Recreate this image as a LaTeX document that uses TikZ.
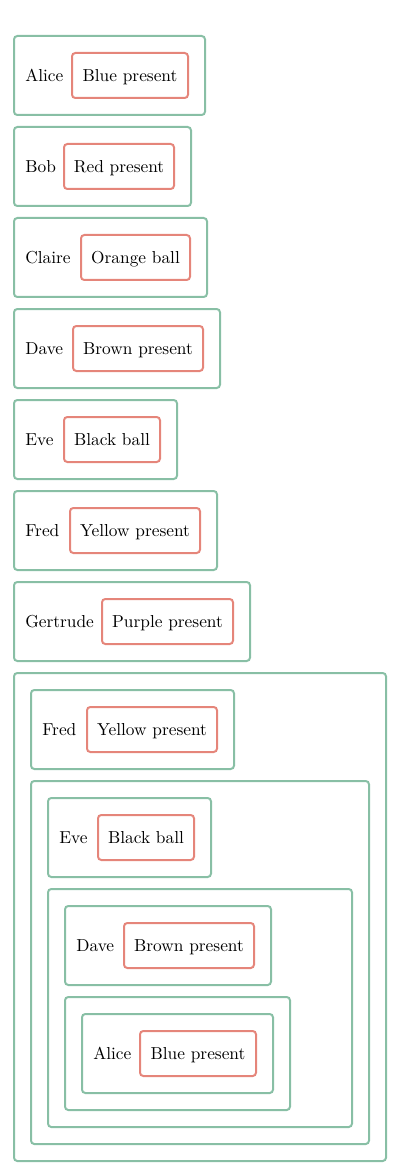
\documentclass[tikz,border=0pt]{standalone}
\usetikzlibrary{positioning}
\definecolor{gcol}{HTML}{88BFA5}
\definecolor{rcol}{HTML}{E5857A}
\tikzset{
  gbox/.style={draw=gcol, line width=1.2pt, rounded corners=2pt, inner sep=0pt, outer sep=0pt},
  rbox/.style={draw=rcol, line width=1.2pt, rounded corners=2pt, inner xsep=0pt, inner ysep=0pt,
     minimum height=27pt, align=center, text height={1.5ex+1.8pt}, text depth=.25ex, outer sep=0pt,
     font=\fontsize{10.4}{12}\selectfont},
  lbl/.style={inner sep=0pt, text height=1.5ex, text depth=.25ex, anchor=west,
     font=\fontsize{10.4}{12}\selectfont}
}
\newcommand\person[7]{%
  \node[gbox, anchor=north west, minimum width={(#4-#2)*0.6pt}, minimum height=47.4pt] (#1) at (#2,#3) {};
  \node[lbl] (#1l) at (#2+11,#3+41) {#6};
  \node[rbox, anchor=west, minimum width={(#4-17-#5)*0.6pt}] (#1g) at (#5,#3+39.5) {#7};
}
\newcommand\container[5]{%
  \node[gbox, anchor=north west, minimum width={(#4-#2)*0.6pt}, minimum height={(#5-#3)*0.6pt}] (#1) at (#2,#3) {};
}
\begin{document}
\begin{tikzpicture}[x=0.6pt,y=-0.6pt]
\useasboundingbox (0,0) rectangle (400,1175);
\person{alice}{14}{36}{205}{72}{Alice}{Blue present}
\person{bob}{14}{127}{191}{64}{Bob}{Red present}
\person{claire}{14}{218}{207}{81}{Claire}{Orange ball}
\person{dave}{14}{309}{220}{73}{Dave}{Brown present}
\person{eve}{14}{400}{177}{64}{Eve}{Black ball}
\person{fred}{14}{491}{217}{70}{Fred}{Yellow present}
\person{gert}{14}{582}{250}{102}{Gertrude}{Purple present}
\container{c1}{14}{673}{386}{1161}
\person{fredb}{31}{690}{234}{87}{Fred}{Yellow present}
\container{c2}{31}{781}{369}{1144}
\person{eveb}{48}{798}{211}{98}{Eve}{Black ball}
\container{c3}{48}{889}{352}{1127}
\person{daveb}{65}{906}{271}{124}{Dave}{Brown present}
\container{c4}{65}{997}{290}{1110}
\person{aliceb}{82}{1014}{273}{140}{Alice}{Blue present}
\end{tikzpicture}
\end{document}
